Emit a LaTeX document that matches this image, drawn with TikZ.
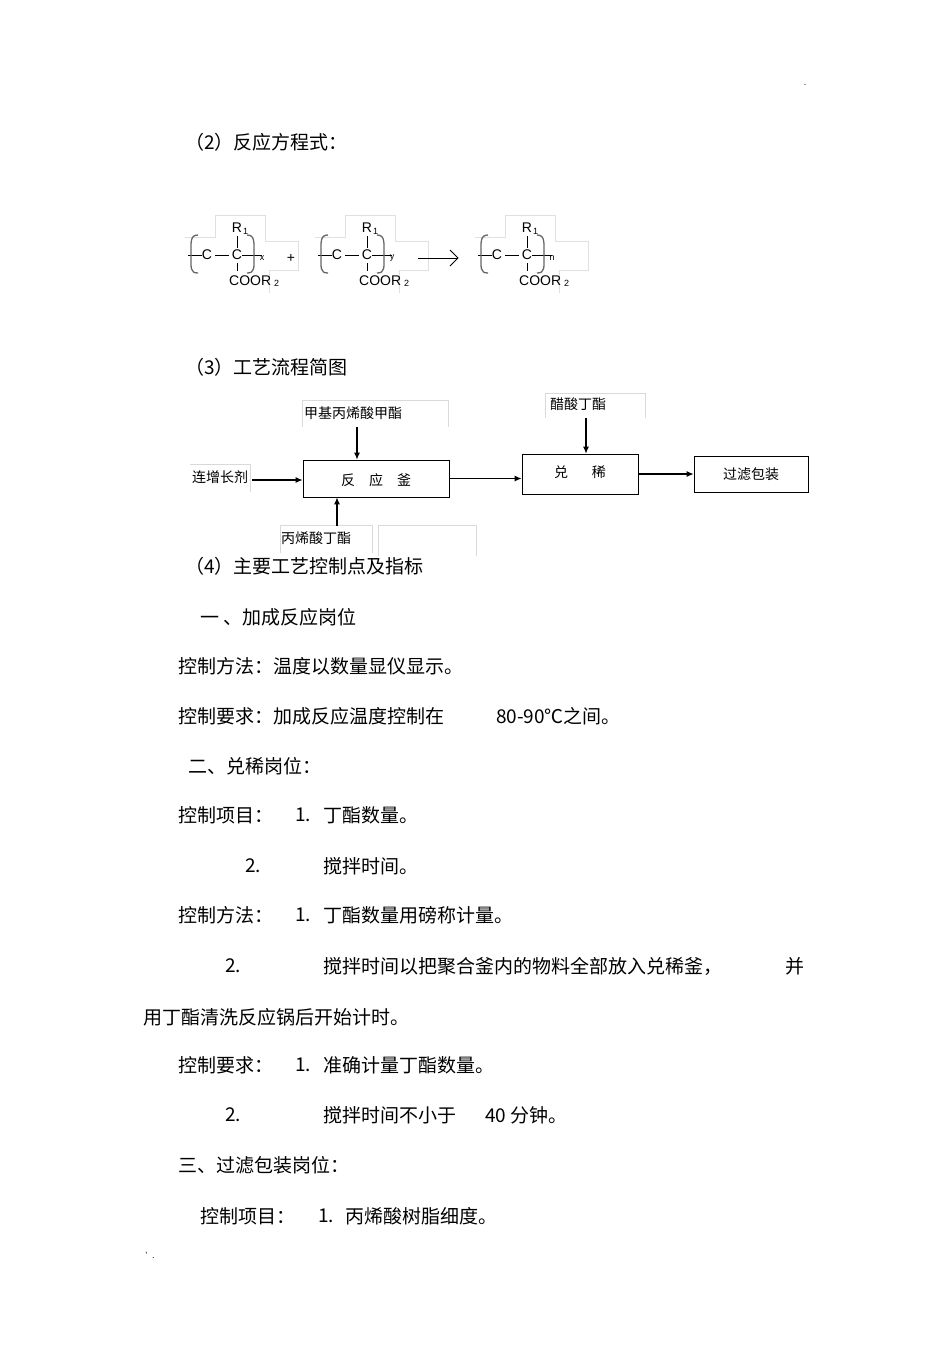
\documentclass[tikz,border=0pt]{standalone}
\usepackage{fontspec}
\setmainfont{Liberation Sans}
\newfontfamily\cjk{Noto Sans CJK SC}
\begin{document}
\begin{tikzpicture}[x=1pt,y=-1pt,
  body/.style={anchor=west,inner sep=0pt,font=\cjk\fontsize{19}{19}\selectfont},
  fl/.style={font=\cjk\fontsize{14}{14}\selectfont,inner sep=0pt},
  box/.style={draw,thick,inner sep=0pt},
  gbox/.style={draw=black!15,inner sep=0pt},
  arr/.style={-{Latex[length=7pt,width=6pt]},line width=1.1pt},
  ch/.style={font=\fontsize{14}{14}\selectfont,inner sep=0pt},
  sub/.style={font=\fontsize{9}{9}\selectfont,inner sep=0pt}]
\usetikzlibrary{arrows.meta}
\useasboundingbox (0,0) rectangle (950,1345);
\fill[white] (0,0) rectangle (950,1345);
\node[body] (t1) at (185,142) {（2）反应方程式：};
% formula units
\foreach \o/\s [count=\i] in {0/x,130/y,290/n}{
  \begin{scope}[xshift=\o]
  \draw[black!12] (185,237)--(215,237)--(215,215)--(265,215)--(265,241)--(298,241)--(298,270)--(269,270)--(269,293);
  \node[ch] (ca\i) at (207,255) {C};
  \node[ch] (cb\i) at (237,255) {C};
  \node[ch] (r\i) at (237,228) {R};
  \node[sub,anchor=west] at (243,231) {1};
  \node[ch,anchor=west] (co\i) at (229,281) {COOR};
  \node[sub,anchor=west] at (274,283) {2};
  \draw (188,255)--(ca\i.west);
  \draw (ca\i.east)++(3,0)--([xshift=-3pt]cb\i.west);
  \draw (cb\i.east)--(262,255);
  \draw[thick] (237,236)--(237,248);
  \draw (237,263)--(237,271);
  \draw[black!60,line width=1.3pt] (198,235) .. controls (190,235) and (191,242) .. (191,255) .. controls (191,268) and (190,273) .. (198,273);
  \draw[black!60,line width=1.3pt] (247,235) .. controls (255,235) and (254,242) .. (254,255) .. controls (254,268) and (255,273) .. (247,273);
  \node[sub] at (262,258) {\s};
  \end{scope}}
\node[ch] (plus) at (291,258) {+};
\coordinate (a1) at (418,258); \coordinate (a2) at (458,258);
\draw[thick] (a1)--(a2);
\draw[thick] (450,250)--(458,258)--(450,266);
\node[body] (t2) at (185,367) {（3）工艺流程简图};
% flowchart
\draw[gbox] (302,427)--(302,400)--(448,400)--(448,427);
\node[fl,anchor=west] (m1) at (304,413) {甲基丙烯酸甲酯};
\coordinate (m1b) at (357,427);
\draw[gbox] (545,393)--(545,418) (545,393)--(645,393)--(645,418);
\node[fl,anchor=west] (m2) at (550,404) {醋酸丁酯};
\coordinate (m2b) at (586,418);
\draw[gbox] (190,464)--(250,464)--(250,492);
\node[fl,anchor=west] (m3) at (192,477) {连增长剂};
\coordinate (m3e) at (252,480);
\draw[gbox] (280,553)--(280,525)--(372,525)--(372,553);
\node[fl,anchor=west] (m4) at (281,538) {丙烯酸丁酯};
\coordinate (m4t) at (337,526);
\draw[gbox] (378,556)--(378,525)--(476,525)--(476,556);
\node[box,minimum width=146pt,minimum height=37pt] (r) at (376,478.5) {};
\node[fl] at (376,480) {反\hspace{1em}应\hspace{1em}釜};
\node[box,minimum width=116pt,minimum height=40pt] (d) at (580,474) {};
\node[fl] at (580,472) {兑\hspace{1.7em}稀};
\node[box,minimum width=114pt,minimum height=36pt,fl] (g) at (751,474) {过滤包装};
\draw[arr] (m3e)--(m3e-|r.west);
\draw[arr] (m1b)--(m1b|-r.north);
\draw[arr] (m4t)--(m4t|-r.south);
\draw[arr] (r.east)--(d.west|-r.east);
\draw[arr] (m2b)--(m2b|-d.north);
\draw[arr] (d.east)--(g.west);
% text
\node[body] at (185,566) {（4）主要工艺控制点及指标};
\node[body] at (200,617) {一\ 、加成反应岗位};
\node[body] at (178,666) {控制方法：温度以数量显仪显示。};
\node[body] at (178,716) {控制要求：加成反应温度控制在};
\node[body] at (496,716) {80-90\cjk ℃之间。};
\node[body] at (188,766) {二、兑稀岗位：};
\node[body] at (178,815) {控制项目：};
\node[body] at (295,815) {1.};
\node[body] at (323,815) {丁酯数量。};
\node[body] at (245,866) {2.};
\node[body] at (323,866) {搅拌时间。};
\node[body] at (178,915) {控制方法：};
\node[body] at (295,915) {1.};
\node[body] at (323,915) {丁酯数量用磅称计量。};
\node[body] at (225,966) {2.};
\node[body] at (323,966) {搅拌时间以把聚合釜内的物料全部放入兑稀釜，};
\node[body] at (785,966) {并};
\node[body] at (143,1017) {用丁酯清洗反应锅后开始计时。};
\node[body] at (178,1065) {控制要求：};
\node[body] at (295,1065) {1.};
\node[body] at (323,1065) {准确计量丁酯数量。};
\node[body] at (225,1115) {2.};
\node[body] at (323,1115) {搅拌时间不小于};
\node[body] at (485,1115) {40 \cjk 分钟。};
\node[body] at (178,1165) {三、过滤包装岗位：};
\node[body] at (200,1216) {控制项目：};
\node[body] at (318,1216) {1.};
\node[body] at (345,1216) {丙烯酸树脂细度。};
\node[font=\fontsize{9}{9}\selectfont] at (805,85) {.};
\node[font=\fontsize{9}{9}\selectfont] at (150,1255) {'\ \ .};
\end{tikzpicture}
\end{document}
